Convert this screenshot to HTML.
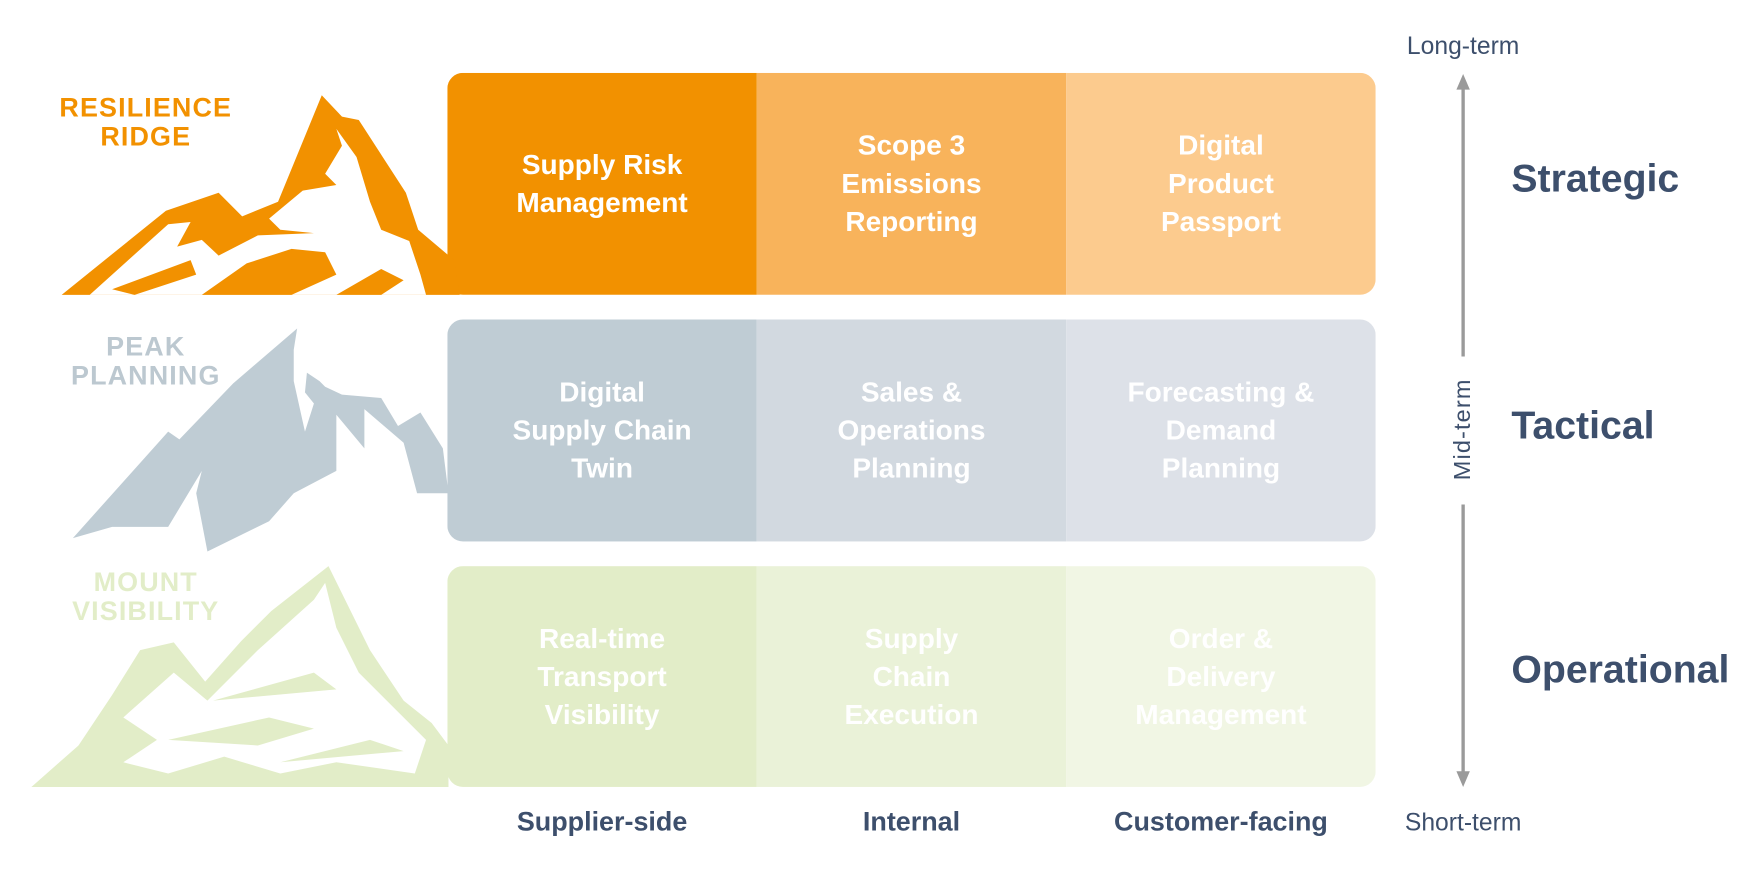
<!DOCTYPE html>
<html><head><meta charset="utf-8"><style>
html,body{margin:0;padding:0;background:#fff;width:1758px;height:880px;overflow:hidden}
#w{position:absolute;left:0;top:0;width:1568px;height:785px;transform:scale(1.12117,1.121);transform-origin:0 0;font-family:"Liberation Sans",sans-serif}
.c{position:absolute;display:flex;align-items:center;justify-content:center;text-align:center;color:#fff;font-weight:bold;font-size:25px;line-height:34px;width:276px;height:198px}
.t{position:absolute;font-weight:bold;color:#3d4f6c}
.m{position:absolute;font-weight:bold;font-size:24px;line-height:26px;text-align:center;width:200px;left:30px;letter-spacing:1px}
</style></head><body><div id="w">
<svg width="1568" height="785" style="position:absolute;left:0;top:0">
<!-- row rectangles -->
<defs>
<clipPath id="r1"><rect x="399" y="65" width="828" height="198" rx="14"/></clipPath>
<clipPath id="r2"><rect x="399" y="285" width="828" height="198" rx="14"/></clipPath>
<clipPath id="r3"><rect x="399" y="505" width="828" height="197" rx="14"/></clipPath>
</defs>
<g clip-path="url(#r1)"><rect x="399" y="65" width="276" height="198" fill="#F29100"/><rect x="675" y="65" width="276" height="198" fill="#F8B35B"/><rect x="951" y="65" width="276" height="198" fill="#FCCB8E"/></g>
<g clip-path="url(#r2)"><rect x="399" y="285" width="276" height="198" fill="#BFCCD4"/><rect x="675" y="285" width="276" height="198" fill="#D2D9E0"/><rect x="951" y="285" width="276" height="198" fill="#DDE1E8"/></g>
<g clip-path="url(#r3)"><rect x="399" y="505" width="276" height="197" fill="#E2EDC8"/><rect x="675" y="505" width="276" height="197" fill="#EAF2D8"/><rect x="951" y="505" width="276" height="197" fill="#F1F6E4"/></g>
<!-- mountain 1 -->
<path d="M55,263 L148,188 L195,172 L216,193 L248,180 L287,85 L305,104 L320,107 L362,172 L373,205 L405,232 L410,263 Z" fill="#F29100"/>
<path d="M80,263 L150,200 L170,198 L158,220 L180,214 L195,228 L230,210 L280,208 L250,205 L240,195 L270,170 L300,165 L290,155 L305,130 L300,115 L318,140 L330,180 L340,205 L365,215 L375,245 L380,263 Z" fill="#fff"/>
<path d="M100,258 L170,232 L175,245 L120,263 Z M180,263 L220,235 L260,222 L290,225 L300,245 L260,263 Z M300,263 L340,240 L360,250 L340,263 Z" fill="#F29100"/>
<!-- mountain 2 -->
<path d="M65,480 L150,385 L160,392 L208,342 L265,293 L270,330 L285,340 L290,345 L305,352 L340,355 L355,380 L375,368 L395,400 L400,440 L372,440 L360,395 L325,365 L325,400 L300,370 L300,420 L262,440 L240,465 L185,492 L175,440 L180,420 L150,470 L100,470 Z" fill="#BFCCD4"/>
<path d="M265,293 L275,320 L272,350 L280,360 L272,385 L262,340 L262,312 Z" fill="#fff"/>
<!-- mountain 3 -->
<path d="M28,702 L70,665 L100,620 L125,580 L155,573 L183,608 L215,572 L242,545 L293,505 L330,580 L360,625 L385,645 L400,665 L400,702 Z" fill="#E2EDC8"/>
<path d="M110,640 L155,600 L185,625 L230,580 L280,535 L290,520 L300,560 L320,600 L355,635 L380,660 L370,690 L300,680 L250,690 L200,675 L150,690 L110,680 L140,660 Z" fill="#fff"/>
<path d="M150,660 L240,640 L280,650 L230,665 Z M190,625 L280,600 L300,615 Z M250,680 L330,660 L360,670 Z" fill="#E2EDC8"/>
<!-- axis -->
<g stroke="#9a9a9a" stroke-width="3" fill="none">
<line x1="1305" y1="72" x2="1305" y2="318"/>
<line x1="1305" y1="450" x2="1305" y2="698"/>
</g>
<path d="M1305,66 L1299,80 L1311,80 Z M1305,702 L1299,688 L1311,688 Z" fill="#9a9a9a"/>
</svg>
<div class="m" style="top:84px;color:#F29100">RESILIENCE<br>RIDGE</div>
<div class="m" style="top:297px;color:#BCC8D0">PEAK<br>PLANNING</div>
<div class="m" style="top:507px;color:#E2EDC8">MOUNT<br>VISIBILITY</div>
<div class="c" style="left:399px;top:65px">Supply Risk<br>Management</div>
<div class="c" style="left:675px;top:65px">Scope 3<br>Emissions<br>Reporting</div>
<div class="c" style="left:951px;top:65px">Digital<br>Product<br>Passport</div>
<div class="c" style="left:399px;top:285px">Digital<br>Supply Chain<br>Twin</div>
<div class="c" style="left:675px;top:285px">Sales &amp;<br>Operations<br>Planning</div>
<div class="c" style="left:951px;top:285px">Forecasting &amp;<br>Demand<br>Planning</div>
<div class="c" style="left:399px;top:505px">Real-time<br>Transport<br>Visibility</div>
<div class="c" style="left:675px;top:505px">Supply<br>Chain<br>Execution</div>
<div class="c" style="left:951px;top:505px">Order &amp;<br>Delivery<br>Management</div>
<div class="t" style="left:1348px;top:140px;font-size:35px">Strategic</div>
<div class="t" style="left:1348px;top:360px;font-size:35px">Tactical</div>
<div class="t" style="left:1348px;top:578px;font-size:35px">Operational</div>
<div class="t" style="left:399px;width:276px;text-align:center;top:720px;font-size:24px">Supplier-side</div>
<div class="t" style="left:675px;width:276px;text-align:center;top:720px;font-size:24px">Internal</div>
<div class="t" style="left:951px;width:276px;text-align:center;top:720px;font-size:24px">Customer-facing</div>
<div style="position:absolute;left:1205px;width:200px;text-align:center;top:28px;font-size:22px;color:#3d4f6c">Long-term</div>
<div style="position:absolute;left:1205px;width:200px;text-align:center;top:721px;font-size:22px;color:#3d4f6c">Short-term</div>
<div style="position:absolute;left:1255px;width:100px;text-align:center;top:371px;font-size:21px;color:#3d4f6c;transform:rotate(-90deg);letter-spacing:1px">Mid-term</div>
</div></body></html>
